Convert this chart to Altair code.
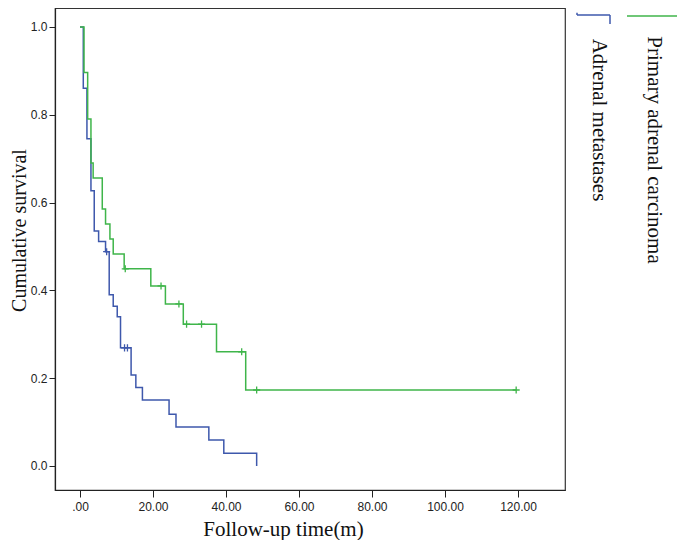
import altair as alt
import pandas as pd

# ---- data ----
groups = ["Adrenal metastases", "Primary adrenal carcinoma"]
colors = ["#3e58ac", "#3fb54a"]

# Adrenal metastases (blue) step curve
blue_t = [0, 0.9, 1.9, 3.0, 3.9, 5.1, 7.0, 8.0, 9.1, 10.2, 11.1, 14.0, 15.3, 17.1, 24.4, 26.3, 35.3, 39.4, 48.4]
blue_s = [1.0, 0.86, 0.745, 0.627, 0.535, 0.511, 0.488, 0.39, 0.364, 0.34, 0.269, 0.207, 0.179, 0.15, 0.118, 0.089, 0.059, 0.029, 0.0]
blue_cens_t = [7.3, 12.2, 13.0]
blue_cens_s = [0.488, 0.269, 0.269]

# Primary adrenal carcinoma (green) step curve
green_t = [0, 1.1, 2.1, 3.0, 3.6, 6.1, 7.0, 8.2, 9.1, 12.1, 19.4, 23.4, 28.3, 37.4, 45.4, 119.5]
green_s = [1.0, 0.896, 0.79, 0.69, 0.656, 0.585, 0.551, 0.517, 0.483, 0.449, 0.41, 0.369, 0.323, 0.26, 0.173, 0.173]
green_cens_t = [12.4, 22.2, 27.1, 29.2, 33.3, 44.3, 48.4, 119.5]
green_cens_s = [0.449, 0.41, 0.369, 0.323, 0.323, 0.26, 0.173, 0.173]

x_ticks = [0, 20, 40, 60, 80, 100, 120]
y_ticks = [0.0, 0.2, 0.4, 0.6, 0.8, 1.0]

W, H = 510, 482
SERIF = "Liberation Serif"
SANS = "Liberation Sans"

blue_df = pd.DataFrame({"t": blue_t, "s": blue_s})
green_df = pd.DataFrame({"t": green_t, "s": green_s})
blue_c = pd.DataFrame({"t": blue_cens_t, "s": blue_cens_s})
green_c = pd.DataFrame({"t": green_cens_t, "s": green_cens_s})

xscale = alt.Scale(domain=[-6.85, 132.88], nice=False, zero=False)
yscale = alt.Scale(domain=[-0.0547, 1.043], nice=False, zero=False)

xaxis = alt.Axis(
    values=x_ticks, grid=False,
    labelExpr="datum.value == 0 ? '.00' : format(datum.value, '.2f')",
    labelFont=SANS, labelFontSize=12, labelColor="#222", labelPadding=4,
    tickSize=7, tickColor="#222", domainColor="#222", domainWidth=1.2,
    title="Follow-up time(m)", titleFont=SERIF, titleFontSize=21,
    titleFontWeight="normal", titleColor="#111",
    titleX=228, titleY=45, titleAlign="center", titleBaseline="alphabetic",
)
yaxis = alt.Axis(
    values=y_ticks, grid=False, format=".1f",
    labelFont=SANS, labelFontSize=12, labelColor="#222", labelPadding=2,
    tickSize=6, tickColor="#222", domainColor="#222", domainWidth=1.2,
    title="Cumulative survival", titleFont=SERIF, titleFontSize=20,
    titleFontWeight="normal", titleColor="#111",
    titleX=-30, titleY=222, titleAngle=270, titleAlign="center",
    titleBaseline="alphabetic",
)

blue_line = alt.Chart(blue_df).mark_line(
    interpolate="step-after", color=colors[0], strokeWidth=1.5
).encode(
    x=alt.X("t:Q", scale=xscale, axis=xaxis),
    y=alt.Y("s:Q", scale=yscale, axis=yaxis),
)
green_line = alt.Chart(green_df).mark_line(
    interpolate="step-after", color=colors[1], strokeWidth=1.5
).encode(x=alt.X("t:Q", scale=xscale), y=alt.Y("s:Q", scale=yscale))

cross = "M0,-1V1M-1,0H1"
blue_pts = alt.Chart(blue_c).mark_point(
    shape=cross, size=50, filled=False, color=colors[0], strokeWidth=1.3, opacity=1
).encode(x=alt.X("t:Q", scale=xscale), y=alt.Y("s:Q", scale=yscale))
green_pts = alt.Chart(green_c).mark_point(
    shape=cross, size=50, filled=False, color=colors[1], strokeWidth=1.3, opacity=1
).encode(x=alt.X("t:Q", scale=xscale), y=alt.Y("s:Q", scale=yscale))

# ---- legend (rotated, top right) ----
leg = pd.DataFrame({"label": groups})


def seg(x1, y1, x2, y2, c):
    return alt.Chart(leg.head(1)).mark_rule(color=c, strokeWidth=1.5).encode(
        x=alt.value(x1), y=alt.value(y1), x2=alt.value(x2), y2=alt.value(y2)
    )


legend_marks = [
    seg(522, 4.7, 522, 7, colors[0]),
    seg(522, 7, 555, 7, colors[0]),
    seg(555, 7, 555, 16, colors[0]),
    seg(572, 8, 622, 8, colors[1]),
]


def label(txt, x, y):
    return alt.Chart(leg.head(1)).mark_text(
        text=txt, angle=90, align="center", baseline="alphabetic",
        font=SERIF, fontSize=21, color="#111",
    ).encode(x=alt.value(x), y=alt.value(y))


legend_texts = [
    label(groups[0], 538, 112),
    label(groups[1], 593, 142),
]

chart = alt.layer(
    blue_line, green_line, blue_pts, green_pts, *legend_marks, *legend_texts
).properties(
    width=W, height=H,
    autosize=alt.AutoSizeParams(type="none"),
    padding={"left": 47, "top": 0, "right": 112, "bottom": 50},
).configure_view(stroke="#333", strokeWidth=1.2)

chart.save("out.html", embed_options={"renderer": "svg", "actions": False})
